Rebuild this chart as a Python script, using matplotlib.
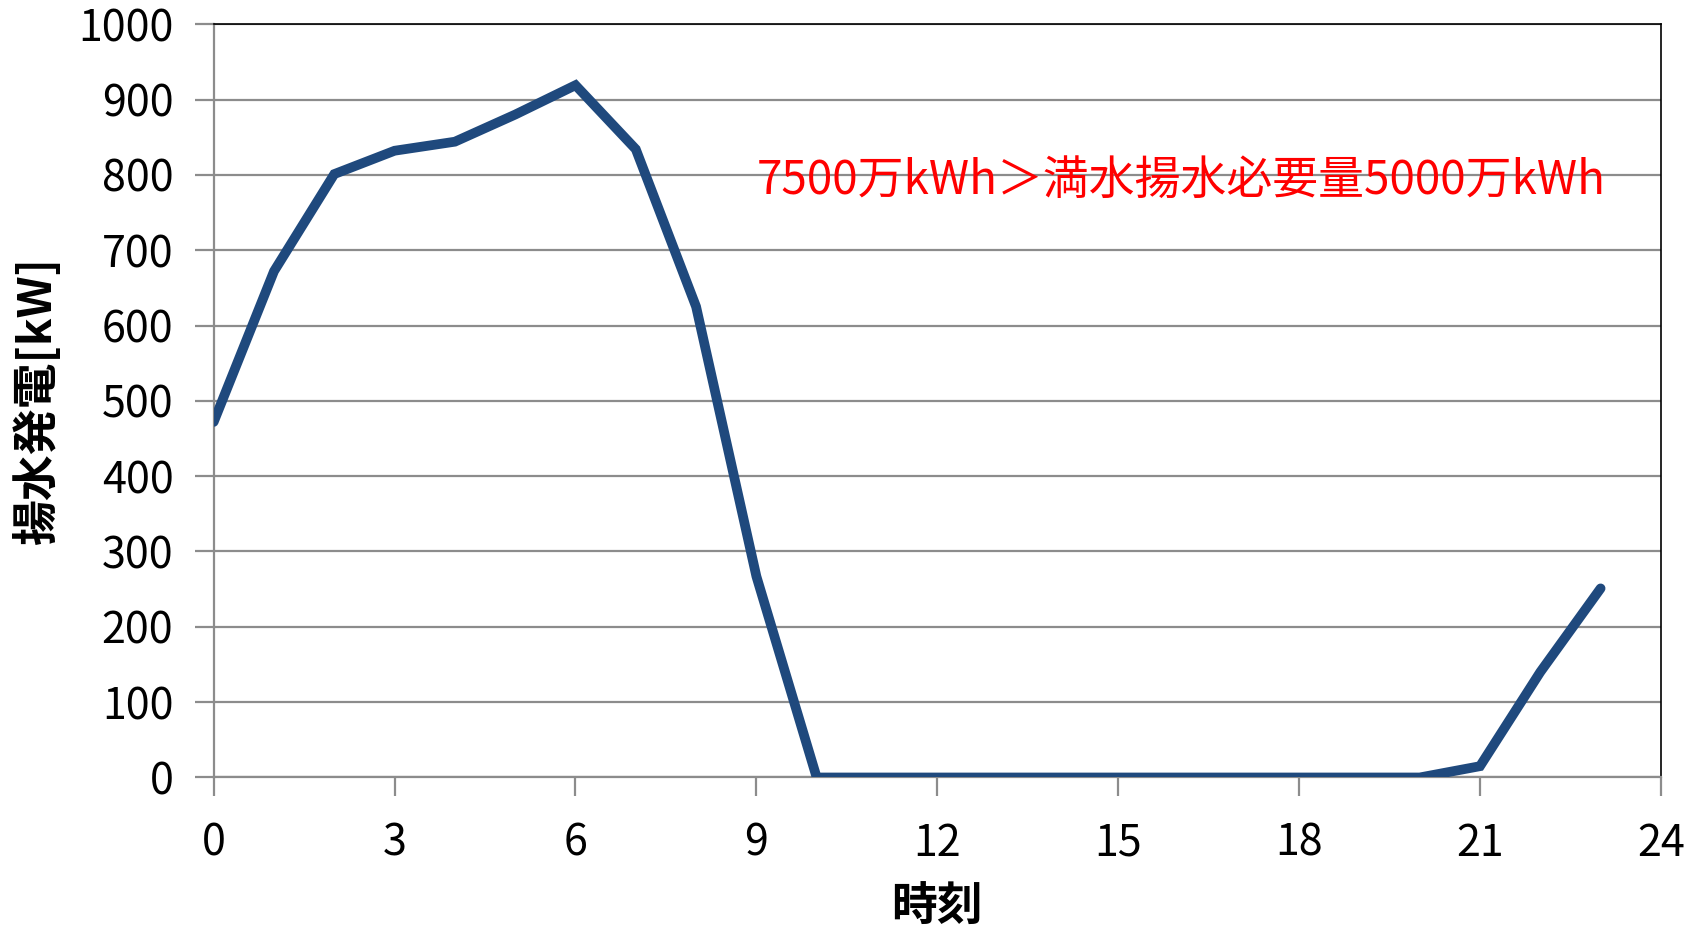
import matplotlib
matplotlib.use('Agg')
import matplotlib.pyplot as plt

plt.rcParams['font.family'] = ['Noto Sans CJK JP', 'DejaVu Sans']

# hourly pumped-storage generation
hours = list(range(24))
power_kw = [472, 672, 801, 832, 844, 880, 919, 834, 625, 267,
            0, 0, 0, 0, 0, 0, 0, 0, 0, 0, 0, 15, 140, 251]

x_ticks = list(range(0, 25, 3))
y_ticks = list(range(0, 1001, 100))

note = '7500万kWh＞満水揚水必要量5000万kWh'

fig, ax = plt.subplots(figsize=(17, 9.3), dpi=100)
fig.subplots_adjust(left=0.1257, right=0.977, top=0.974, bottom=0.164)

ax.plot(hours, power_kw, color='#1F497D', linewidth=7, solid_capstyle='round',
        solid_joinstyle='miter', zorder=3)

ax.set_xlim(0, 24)
ax.set_ylim(0, 1000)
ax.set_xticks(x_ticks)
ax.set_yticks(y_ticks)
ax.grid(True, axis='y', color='#8c8c8c', linewidth=1.6)
ax.set_axisbelow(True)

for side in ['left', 'bottom']:
    ax.spines[side].set_color('#8c8c8c')
    ax.spines[side].set_linewidth(1.6)
for side in ['top', 'right']:
    ax.spines[side].set_color('black')
    ax.spines[side].set_linewidth(1.2)

ax.tick_params(axis='both', direction='out', length=14, width=1.6, color='#8c8c8c',
               labelsize=31)
ax.tick_params(axis='y', pad=15)
ax.tick_params(axis='x', pad=18)

ax.set_xlabel('時刻', fontsize=33, fontweight='bold', labelpad=14)
ax.set_ylabel('揚水発電[kW]', fontsize=33, fontweight='bold', labelpad=12)

ax.text(9.0, 792, note, color='red', fontsize=33, ha='left', va='center')

fig.savefig('out.png', dpi=100)
